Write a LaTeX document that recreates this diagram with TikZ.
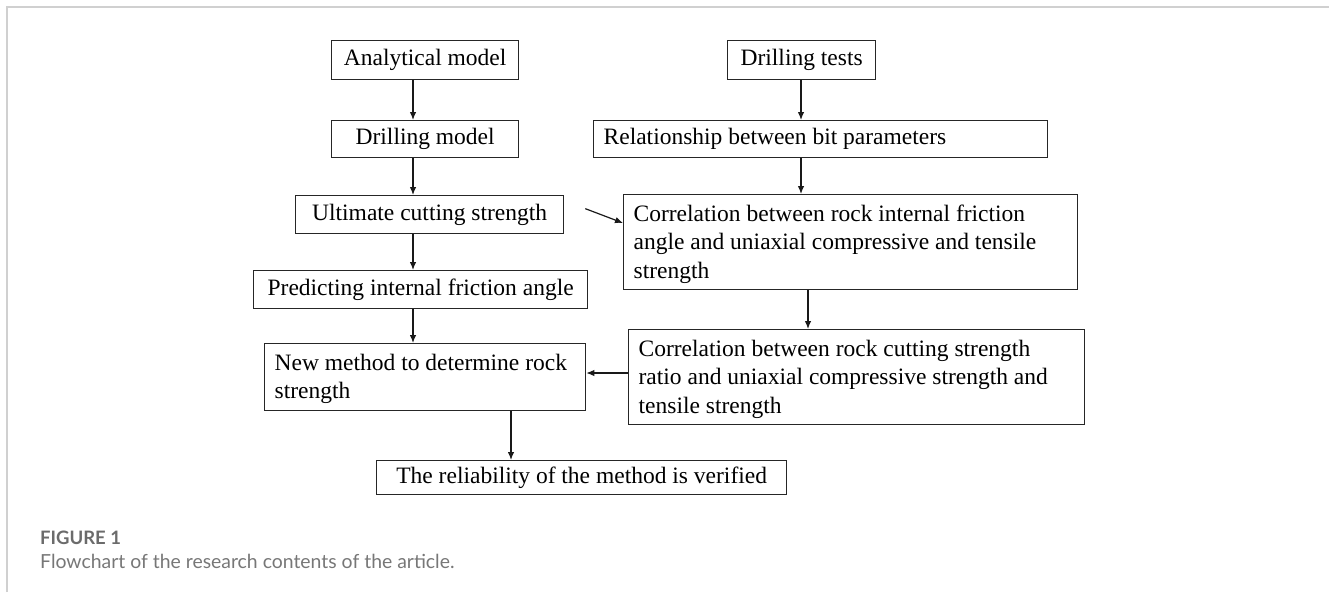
\documentclass[tikz,border=0pt]{standalone}
\usepackage{fontspec}
\setmainfont{Liberation Serif}
\newfontfamily\capfont{Lato}
\usetikzlibrary{arrows.meta}
\definecolor{frame}{HTML}{D0D0D0}
\definecolor{capgray}{HTML}{6B6B6B}
\definecolor{capgray2}{HTML}{777777}
\begin{document}
\begin{tikzpicture}[x=1pt,y=-1pt,
  box/.style={draw=black!85, line width=1.3pt, inner xsep=10pt, inner ysep=0pt, anchor=north west,
    font=\fontsize{23.5}{28.5}\selectfont},
  arr/.style={draw=black!90, line width=1.2pt, -{Latex[length=8pt,width=6.5pt]}},
]
\useasboundingbox (0,0) rectangle (1329,592);
% frame
\draw[frame, line width=1.5pt] (7,592) -- (7,7) -- (1329,7);

% left column
\node[box, minimum width=187, minimum height=39] (a) at (331,40) {Analytical model};
\node[box, minimum width=187, minimum height=37] (b) at (331,120) {Drilling model};
\node[box, minimum width=268, minimum height=38] (c) at (295,195) {Ultimate cutting strength};
\node[box, minimum width=334, minimum height=38] (d) at (253,270) {Predicting internal friction angle};
\node[box, text width=301, align=flush left, minimum height=67] (e) at (264,343) {\rule{0pt}{20pt}New method to determine rock\\strength};
\node[box, minimum width=410, minimum height=34] (f) at (376,460) {The reliability of the method is verified};

% right column
\node[box, minimum width=148, minimum height=39] (g) at (727,40) {Drilling tests};
\node[box, text width=434, align=flush left, minimum height=37] (h) at (593,120) {Relationship between bit parameters};
\node[box, text width=434, align=flush left, minimum height=95] (i) at (623,194) {\rule{0pt}{20pt}Correlation between rock internal friction\\angle and uniaxial compressive and tensile\\strength};
\node[box, text width=436, align=flush left, minimum height=95] (j) at (628,329) {\rule{0pt}{20pt}Correlation between rock cutting strength\\ratio and uniaxial compressive strength and\\tensile strength};

% connector columns
\coordinate (xl) at (413,0);
\coordinate (xe) at (511,0);
\coordinate (xr) at (801,0);
\coordinate (xi) at (808,0);
\coordinate (yj) at (0,373);

\draw[arr] (a.south -| xl) -- (b.north -| xl);
\draw[arr] (b.south -| xl) -- (c.north -| xl);
\draw[arr] (c.south -| xl) -- (d.north -| xl);
\draw[arr] (d.south -| xl) -- (e.north -| xl);
\draw[arr] (e.south -| xe) -- (f.north -| xe);
\draw[arr] (g.south -| xr) -- (h.north -| xr);
\draw[arr] (h.south -| xr) -- (i.north -| xr);
\draw[arr] (i.south -| xi) -- (j.north -| xi);
\draw[arr] (j.west |- yj) -- (e.east |- yj);
\coordinate (cs) at ([xshift=21pt,yshift=6pt]c.east);
\coordinate (ie) at (i.west |- 0,223);
\draw[arr] (cs) -- (ie);

% caption
\node[anchor=base west, inner sep=0pt, text=capgray, font=\capfont\bfseries\fontsize{18.5}{22}\selectfont] (cap1) at (40,544) {FIGURE 1};
\node[anchor=base west, inner sep=0pt, text=capgray2, font=\capfont\fontsize{19.4}{22}\selectfont] (cap2) at (40,568) {Flowchart of the research contents of the article.};
\end{tikzpicture}
\end{document}
